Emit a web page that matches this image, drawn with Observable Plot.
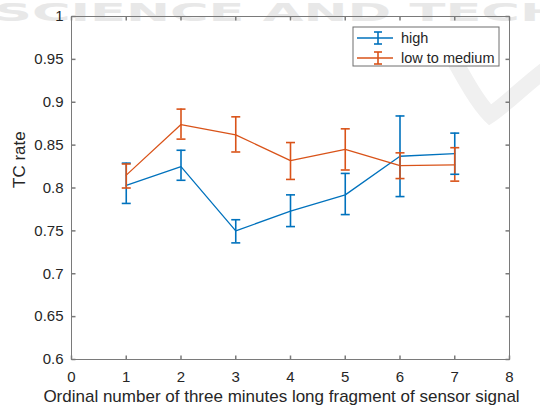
<!DOCTYPE html>
<html><head><meta charset="utf-8">
<script src="https://cdn.jsdelivr.net/npm/d3@7"></script>
<script src="https://cdn.jsdelivr.net/npm/@observablehq/plot@0.6"></script>
<style>
body{margin:0;background:#fff;}
#wrap{position:relative;width:540px;height:410px;overflow:hidden;}
</style></head>
<body><div id="wrap"></div>
<script>
const segments = [1, 2, 3, 4, 5, 6, 7];
const highMean = [0.803, 0.825, 0.750, 0.773, 0.792, 0.837, 0.840];
const highLow  = [0.782, 0.809, 0.736, 0.755, 0.769, 0.790, 0.816];
const highHigh = [0.829, 0.844, 0.763, 0.792, 0.817, 0.884, 0.864];
const lowMean  = [0.815, 0.874, 0.862, 0.832, 0.845, 0.826, 0.827];
const lowLow   = [0.800, 0.857, 0.842, 0.810, 0.821, 0.811, 0.808];
const lowHigh  = [0.828, 0.892, 0.883, 0.853, 0.869, 0.841, 0.847];
const seriesNames = ["high", "low to medium"];
const seriesColors = ["#0072BD", "#D95319"];
const xTicks = [0, 1, 2, 3, 4, 5, 6, 7, 8];
const yTicks = [0.6, 0.65, 0.7, 0.75, 0.8, 0.85, 0.9, 0.95, 1];
const xLabel = "Ordinal number of three minutes long fragment of sensor signal";
const yLabel = "TC rate";
const watermark = "SCIENCE AND TECH";

const rows = [];
segments.forEach((s, i) => {
  rows.push({series: seriesNames[0], x: s, y: highMean[i], lo: highLow[i], hi: highHigh[i]});
});
segments.forEach((s, i) => {
  rows.push({series: seriesNames[1], x: s, y: lowMean[i], lo: lowLow[i], hi: lowHigh[i]});
});

const cap = {draw(ctx, size) { const w = Math.sqrt(size / Math.PI); ctx.moveTo(-w, 0); ctx.lineTo(w, 0); }};
const tickUp = {draw(ctx, size) { const l = Math.sqrt(size / Math.PI); ctx.moveTo(0, 0); ctx.lineTo(0, -l); }};
const tickDown = {draw(ctx, size) { const l = Math.sqrt(size / Math.PI); ctx.moveTo(0, 0); ctx.lineTo(0, l); }};
const tickRight = {draw(ctx, size) { const l = Math.sqrt(size / Math.PI); ctx.moveTo(0, 0); ctx.lineTo(l, 0); }};
const tickLeft = {draw(ctx, size) { const l = Math.sqrt(size / Math.PI); ctx.moveTo(0, 0); ctx.lineTo(-l, 0); }};
const axisColor = "#7a7a7a";
const textColor = "#262626";
const fmt = d => String(+d.toFixed(2));

const chart = Plot.plot({
  width: 540, height: 410,
  marginLeft: 71, marginRight: 31, marginTop: 16, marginBottom: 51,
  style: {fontFamily: "'Liberation Sans', Arial, sans-serif", fontSize: "15px", color: textColor, background: "transparent"},
  x: {domain: [0, 8]},
  y: {domain: [0.6, 1]},
  color: {domain: seriesNames, range: seriesColors},
  marks: [
    Plot.axisX(xTicks, {tickSize: 0, tickPadding: 12, tickFormat: fmt, label: null, fontSize: 15}),
    Plot.axisY(yTicks, {tickSize: 0, tickPadding: 8, tickFormat: fmt, label: null, fontSize: 15}),
    Plot.dot(xTicks, {x: d => d, frameAnchor: "bottom", symbol: tickUp, r: 4, stroke: axisColor, fill: "none"}),
    Plot.dot(xTicks, {x: d => d, frameAnchor: "top", symbol: tickDown, r: 4, stroke: axisColor, fill: "none"}),
    Plot.dot(yTicks, {y: d => d, frameAnchor: "left", symbol: tickRight, r: 4, stroke: axisColor, fill: "none"}),
    Plot.dot(yTicks, {y: d => d, frameAnchor: "right", symbol: tickLeft, r: 4, stroke: axisColor, fill: "none"}),
    Plot.frame({stroke: axisColor}),
    Plot.text([xLabel], {frameAnchor: "bottom", dy: 42, dx: -9, text: d => d, fontSize: 17, fill: textColor}),
    Plot.text([yLabel], {frameAnchor: "left", dx: -52, rotate: -90, text: d => d, fontSize: 17, fill: textColor}),
    Plot.line(rows, {x: "x", y: "y", z: "series", stroke: "series", strokeWidth: 1.3}),
    Plot.ruleX(rows, {x: "x", y1: "lo", y2: "hi", stroke: "series", strokeWidth: 1.6}),
    Plot.dot(rows, {x: "x", y: "lo", symbol: cap, r: 4.5, stroke: "series", strokeWidth: 1.6, fill: "none"}),
    Plot.dot(rows, {x: "x", y: "hi", symbol: cap, r: 4.5, stroke: "series", strokeWidth: 1.6, fill: "none"})
  ]
});

const svg = d3.select(chart);
// faint publisher watermark behind everything
const wm = svg.insert("g", ":first-child");
wm.append("rect").attr("width", 540).attr("height", 410).attr("fill", "#fff");
wm.append("path")
  .attr("d", "M440,35 C460,70 475,100 490,115 C505,105 525,85 545,70")
  .attr("fill", "none").attr("stroke", "#f0f0f0").attr("stroke-width", 16).attr("stroke-linecap", "round");
wm.append("text")
  .attr("x", -6).attr("y", 21)
  .attr("text-anchor", "start")
  .attr("textLength", 570).attr("lengthAdjust", "spacingAndGlyphs")
  .style("font", "bold 24px 'DejaVu Sans', sans-serif")
  .attr("fill", "#e8e8e8")
  .text(watermark);

// legend
const lg = svg.append("g").attr("transform", "translate(353,27)").attr("text-anchor", "start");
lg.append("rect").attr("width", 146).attr("height", 39).attr("fill", "#fff").attr("stroke", "#6e6e6e");
seriesNames.forEach((name, i) => {
  const cy = 11 + i * 20;
  const c = seriesColors[i];
  const g = lg.append("g").attr("stroke", c).attr("stroke-width", 1.6);
  g.append("line").attr("x1", 4).attr("x2", 40).attr("y1", cy).attr("y2", cy).attr("stroke-width", 1.3);
  g.append("line").attr("x1", 25).attr("x2", 25).attr("y1", cy - 6).attr("y2", cy + 6);
  g.append("line").attr("x1", 21).attr("x2", 29).attr("y1", cy - 6).attr("y2", cy - 6);
  g.append("line").attr("x1", 21).attr("x2", 29).attr("y1", cy + 6).attr("y2", cy + 6);
  lg.append("text").attr("x", 48).attr("y", cy + 5).attr("text-anchor", "start")
    .style("font", "14.5px 'Liberation Sans', Arial, sans-serif").attr("fill", textColor).text(name);
});

document.getElementById("wrap").appendChild(chart);
</script>
</body></html>
